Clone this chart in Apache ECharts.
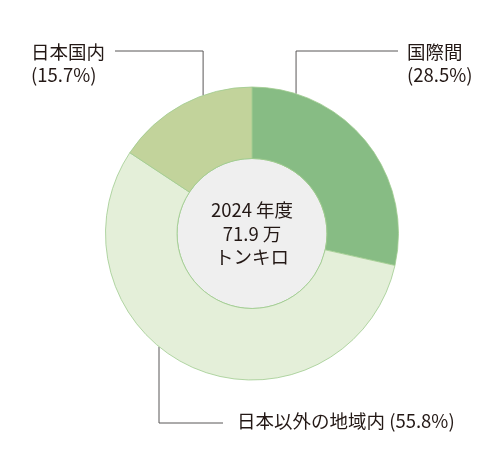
<!DOCTYPE html>
<html>
<head>
<meta charset="utf-8">
<script src="https://cdn.jsdelivr.net/npm/echarts@6/dist/echarts.min.js"></script>
<style>
  html, body { margin: 0; padding: 0; background: #fff; }
  #main { width: 504px; height: 468px; }
</style>
</head>
<body>
<div id="main"></div>
<script>
;(function(){
    // データ
    var categories = ['国際間', '日本以外の地域内', '日本国内'];
    var shares = [28.5, 55.8, 15.7];
    var centerLines = ['2024 年度', '71.9 万', 'トンキロ'];
    var colors = ['#87bc84', '#e4efd9', '#c2d39b'];

    var cx = 252, cy = 233.5, rOut = 146.5, rIn = 75;

    // 引き出し線: 始点角度(上から時計回り), 折れ点y, 終点x, ラベル位置
    var leaders = [
        {angle: 17.5, elbowY: 51, endX: 398, x: 407, y: 63.5},
        {angle: 219.4, elbowY: 423, endX: 223, x: 237, y: 421},
        {angle: -19.5, elbowY: 51, endX: 115, x: 31, y: 63.5}
    ];

    var font = '"Noto Sans CJK JP", "Noto Sans", sans-serif';
    var textColor = '#231815';

    var option = {
        backgroundColor: '#fff',
        animation: false,
        series: [
            {
                type: 'pie',
                center: [cx, cy],
                radius: [0, rIn],
                silent: true,
                z: 1,
                itemStyle: {color: '#efefef', borderColor: '#9fcb8f', borderWidth: 1},
                label: {
                    show: true,
                    position: 'center',
                    formatter: centerLines.join('\n'),
                    fontFamily: font,
                    fontSize: 18.5,
                    lineHeight: 23.5,
                    color: textColor
                },
                labelLine: {show: false},
                data: [{value: 1, name: 'center'}]
            },
            {
                type: 'pie',
                center: [cx, cy],
                radius: [rIn, rOut],
                startAngle: 90,
                clockwise: true,
                silent: true,
                z: 2,
                itemStyle: {borderColor: '#9fcb8f', borderWidth: 0.8},
                label: {
                    show: true,
                    overflow: 'none',
                    fontFamily: font,
                    fontSize: 18.5,
                    lineHeight: 23,
                    color: textColor,
                    formatter: function (p) {
                        if (p.dataIndex === 1) {
                            return p.name + ' (' + p.value.toFixed(1) + '%)';
                        }
                        return p.name + '\n(' + p.value.toFixed(1) + '%)';
                    }
                },
                labelLine: {
                    show: true,
                    lineStyle: {color: '#595757', width: 1}
                },
                labelLayout: function (p) {
                    var l = leaders[p.dataIndex];
                    var a = l.angle * Math.PI / 180;
                    var sx = cx + rOut * Math.sin(a);
                    var sy = cy - rOut * Math.cos(a);
                    return {
                        x: l.x,
                        y: l.y,
                        width: 300,
                        align: 'left',
                        verticalAlign: 'middle',
                        labelLinePoints: [[sx, sy], [sx, l.elbowY], [l.endX, l.elbowY]]
                    };
                },
                data: categories.map(function (name, i) {
                    return {value: shares[i], name: name, itemStyle: {color: colors[i]}};
                })
            }
        ]
    };

    echarts.init(document.getElementById('main')).setOption(option);
})();
</script>
</body>
</html>
